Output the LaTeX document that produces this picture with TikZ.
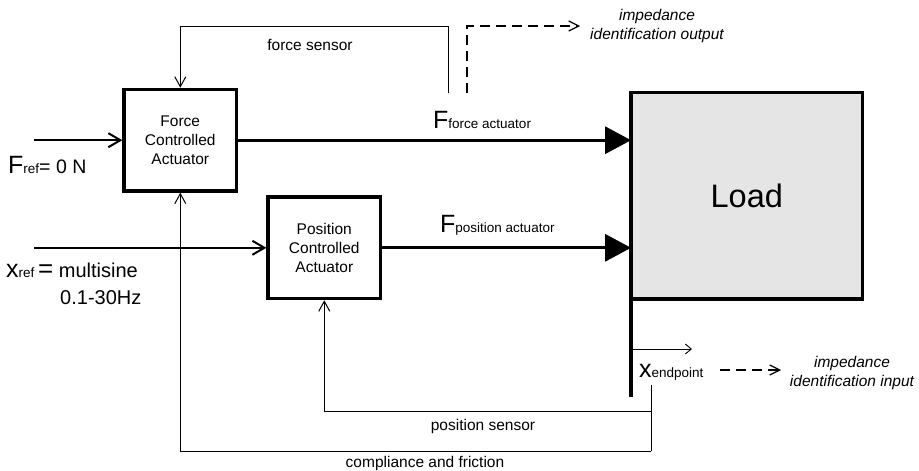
\documentclass[tikz,border=0pt]{standalone}
\usepackage{fontspec}
\setmainfont{Liberation Sans}
\usetikzlibrary{arrows.meta}
\definecolor{loadgray}{HTML}{E5E5E5}
\newcommand{\fs}[1]{\fontsize{#1}{#1}\selectfont}
\tikzset{
  block/.style={draw, line width=3.4pt, minimum width=112.5pt, minimum height=101.5pt,
    inner sep=0pt, align=center, font=\fontsize{15.5}{19}\selectfont},
  lbl/.style={inner sep=0pt, font=\fontsize{15.5}{19}\selectfont},
  ilbl/.style={inner sep=0pt, align=center, font=\fontsize{15.5}{19}\selectfont\itshape},
  sym/.style={inner sep=0pt, anchor=base west},
  inarrow/.style={line width=2pt, -{Straight Barb[length=12pt,width=14pt]}},
  fbarrow/.style={line width=1pt, -{Straight Barb[length=10pt,width=11pt]}},
  fbline/.style={line width=1pt},
  bigarrow/.style={line width=3.2pt, -{Triangle[length=26pt,width=27pt]}},
  dasharrow/.style={line width=2pt, dash pattern=on 10pt off 6pt,
    -{Straight Barb[length=10pt,width=10pt,line width=1.2pt]}},
}
\begin{document}
\begin{tikzpicture}[x=1pt, y=-1pt]
\useasboundingbox (0,0) rectangle (919,471);

% blocks
\node[block] (force) at (180.3,140.2) {Force\\Controlled\\Actuator};
\node[block] (pos) at (324.3,247.8) {Position\\Controlled\\Actuator};
\node[draw, line width=3.4pt, fill=loadgray, outer sep=0pt,
      minimum width=231.5pt, minimum height=206.5pt, inner sep=0pt,
      font=\fs{32.5}] (load) at (746.8,195.9) {Load};

% endpoint bar below the load
\coordinate (barEnd) at (631,397);
\draw[line width=3.4pt] (load.south west) -- (load.south west |- barEnd);

% reference inputs
\coordinate (frefIn) at (34,0);
\coordinate (xrefIn) at (34,0);
\draw[inarrow] (frefIn |- force.west) -- (force.west);
\draw[inarrow] (xrefIn |- pos.west) -- (pos.west);

% actuator forces on the load
\draw[bigarrow] (force.east) -- (load.west |- force.east);
\draw[bigarrow] (pos.east) -- (load.west |- pos.east);

% force sensor loop
\coordinate (fsTap) at (448,93);
\coordinate (topLevel) at (0,26);
\draw[fbarrow] (fsTap) |- (force.north |- topLevel) -- (force.north);

% impedance identification output
\coordinate (idOutStart) at (467,93);
\coordinate (idOutEnd) at (580,26);
\draw[dasharrow] (idOutStart) |- (idOutEnd);
\node[ilbl] (idOut) at (657,26) {impedance\\identification output};

% endpoint position feedback
\coordinate (xTap) at (651,385);
\coordinate (psLevel) at (0,411);
\coordinate (cfLevel) at (0,451);
\draw[fbline] (xTap) -- (xTap |- psLevel);
\draw[fbarrow] (xTap |- psLevel) -| (pos.south);
\draw[fbline] (xTap |- psLevel) -- (xTap |- cfLevel);
\draw[fbarrow] (xTap |- cfLevel) -| (force.south);

% endpoint displacement
\coordinate (xArrowEnd) at (692,349);
\draw[line width=0.9pt, -{Straight Barb[length=6pt,width=10pt,line width=0.9pt]}]
  (load.west |- xArrowEnd) -- (xArrowEnd);

% impedance identification input
\coordinate (idInStart) at (720,370);
\coordinate (idInEnd) at (781,370);
\draw[dasharrow] (idInStart) -- (idInEnd);
\node[ilbl] (idIn) at (852,373) {impedance\\identification input};

% labels
\node[lbl] (fsLbl) at (310,45) {force sensor};
\node[lbl] (psLbl) at (483,426) {position sensor};
\node[lbl] (cfLbl) at (425,463) {compliance and friction};

\node[sym] (fForce) at (433,128) {\fs{25}F\fs{13.5}force actuator};
\node[sym] (fPos) at (440,232) {\fs{25}F\fs{13.5}position actuator};
\node[sym] (fRef) at (8,173) {\fs{25}F\fs{13.5}ref\fs{19.5}= 0 N};
\node[sym] (xRef) at (6,277) {\fs{25}x\fs{13.5}ref \fs{26}=\fs{20} multisine};
\node[sym] (band) at (60,304) {\fs{20}0.1-30Hz};
\node[sym] (xEnd) at (639,377) {\fs{25}x\fs{13.5}endpoint};
\end{tikzpicture}
\end{document}
